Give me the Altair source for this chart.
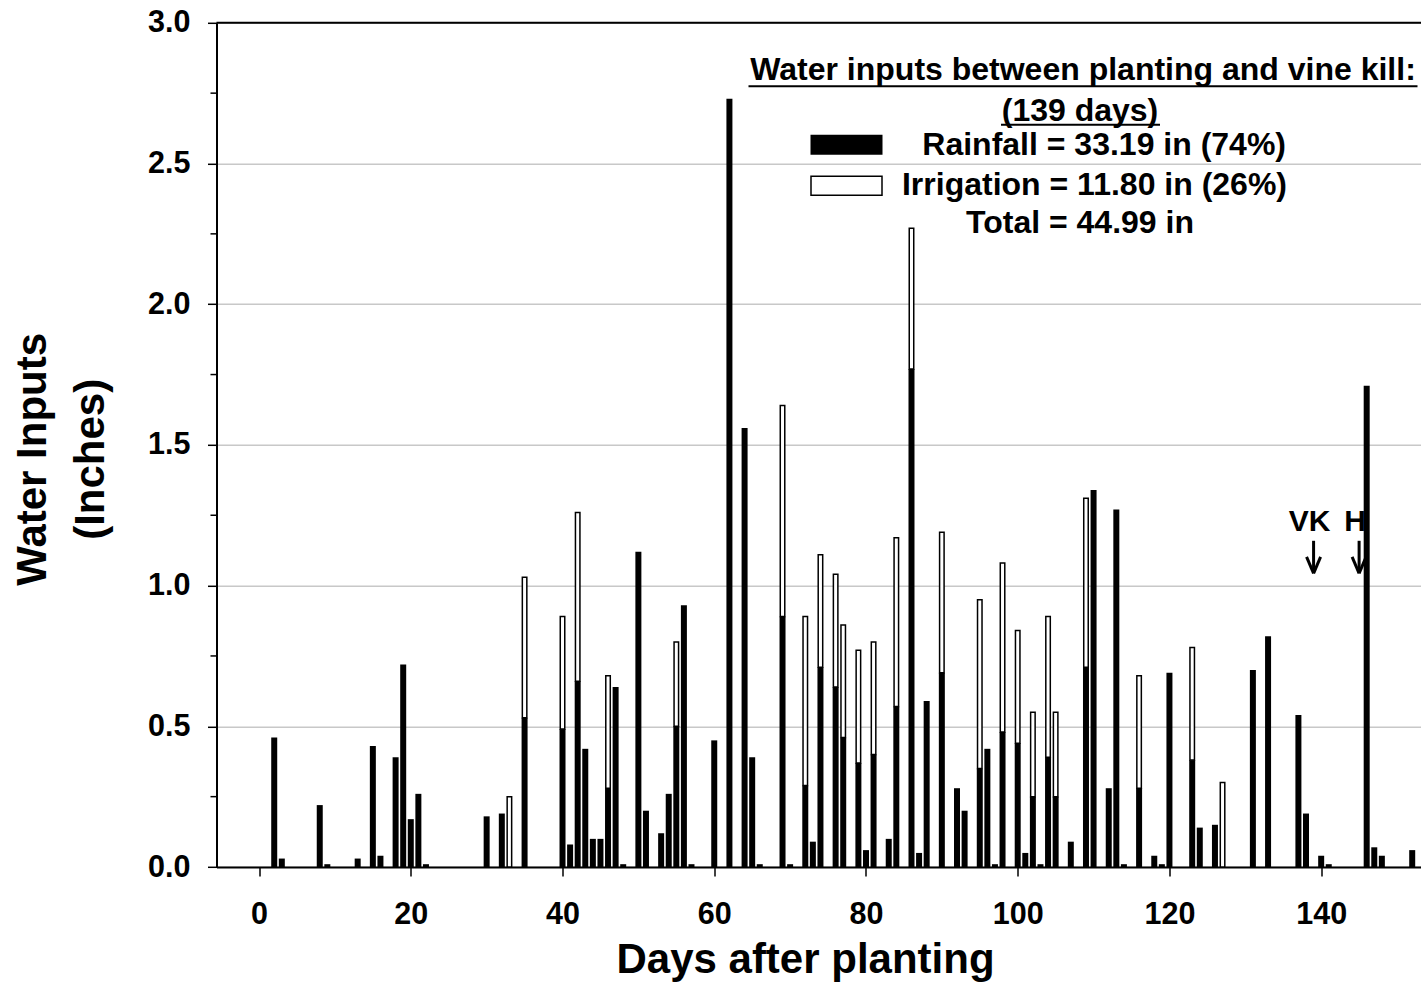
import altair as alt
import pandas as pd

# ---- data ----
days = [2, 3, 8, 9, 13, 15, 16, 18, 19, 20, 21, 22, 30, 32, 33, 35, 40, 41, 42, 43,
        44, 45, 46, 47, 48, 50, 51, 53, 54, 55, 56, 57, 60, 62, 64, 65, 66, 69, 70, 72,
        73, 74, 76, 77, 79, 80, 81, 83, 84, 86, 87, 88, 90, 92, 93, 95, 96, 97, 98, 100,
        101, 102, 103, 104, 105, 107, 109, 110, 112, 113, 114, 116, 118, 119, 120, 123, 124, 126, 127, 131,
        133, 137, 138, 140, 141, 146, 147, 148, 152]
rainfall = [0.46, 0.03, 0.22, 0.01, 0.03, 0.43, 0.04, 0.39, 0.72, 0.17, 0.26, 0.01, 0.18, 0.19, 0.00, 0.53, 0.49, 0.08, 0.66, 0.42,
            0.10, 0.10, 0.28, 0.64, 0.01, 1.12, 0.20, 0.12, 0.26, 0.50, 0.93, 0.01, 0.45, 2.73, 1.56, 0.39, 0.01, 0.89, 0.01, 0.29,
            0.09, 0.71, 0.64, 0.46, 0.37, 0.06, 0.40, 0.10, 0.57, 1.77, 0.05, 0.59, 0.69, 0.28, 0.20, 0.35, 0.42, 0.01, 0.48, 0.44,
            0.05, 0.25, 0.01, 0.39, 0.25, 0.09, 0.71, 1.34, 0.28, 1.27, 0.01, 0.28, 0.04, 0.01, 0.69, 0.38, 0.14, 0.15, 0.00, 0.70,
            0.82, 0.54, 0.19, 0.04, 0.01, 1.71, 0.07, 0.04, 0.06]
irrigation = [0, 0, 0, 0, 0, 0, 0, 0, 0, 0, 0, 0, 0, 0, 0.25, 0.50, 0.40, 0, 0.60, 0,
              0, 0, 0.40, 0, 0, 0, 0, 0, 0, 0.30, 0, 0, 0, 0, 0, 0, 0, 0.75, 0, 0.60,
              0, 0.40, 0.40, 0.40, 0.40, 0, 0.40, 0, 0.60, 0.50, 0, 0, 0.50, 0, 0, 0.60, 0, 0, 0.60, 0.40,
              0, 0.30, 0, 0.50, 0.30, 0, 0.60, 0, 0, 0, 0, 0.40, 0, 0, 0, 0.40, 0, 0, 0.30, 0,
              0, 0, 0, 0, 0, 0, 0, 0, 0]

x_ticks = [0, 20, 40, 60, 80, 100, 120, 140]
y_ticks = [0.0, 0.5, 1.0, 1.5, 2.0, 2.5, 3.0]
y_minor = [0.25, 0.75, 1.25, 1.75, 2.25, 2.75]

legend_title = "Water inputs between planting and vine kill:"
legend_days = "(139 days)"
legend_rain = "Rainfall = 33.19 in (74%)"
legend_irr = "Irrigation = 11.80 in (26%)"
legend_total = "Total = 44.99 in"

event_labels = ["VK", "H"]
event_days = [139, 145]

x_title = "Days after planting"
y_title = ["Water Inputs", "(Inches)"]

# ---- layout ----
W = 1204.5
H = 844.2
FONT = "Liberation Sans"

df = pd.DataFrame({"day": days, "rain": rainfall, "irr": irrigation})
df["base"] = 0.0
df["total"] = df["rain"] + df["irr"]
rain_df = df[df["rain"] > 0]
irr_df = df[df["irr"] > 0]

xs = alt.Scale(domain=[-4.95, 152.5], nice=False, zero=False)
ys = alt.Scale(domain=[0, 3], nice=False)

x_axis = alt.Axis(
    values=x_ticks, title=x_title, grid=False,
    labelFont=FONT, labelFontSize=30.5, labelFontWeight="bold", labelColor="black",
    labelPadding=23, tickSize=9, tickWidth=1.5, tickColor="black",
    domainColor="black", domainWidth=2,
    titleFont=FONT, titleFontSize=42, titleFontWeight="bold", titleColor="black",
    titleX=588.5, titleY=105, titleAlign="center", titleBaseline="alphabetic",
)
y_axis = alt.Axis(
    values=y_ticks, format=".1f", title=y_title,
    grid=True, gridColor="#c8c8c8", gridWidth=1.5,
    labelFont=FONT, labelFontSize=30.5, labelFontWeight="bold", labelColor="black",
    labelPadding=17.5, tickSize=9, tickWidth=1.5, tickColor="black",
    domainColor="black", domainWidth=2,
    titleFont=FONT, titleFontSize=42, titleFontWeight="bold", titleColor="black",
    titleLineHeight=58, titleX=-184, titleY=436, titleAngle=-90,
    titleAlign="center", titleBaseline="middle",
)

rain_bars = alt.Chart(rain_df).mark_bar(size=6, color="black").encode(
    x=alt.X("day:Q", scale=xs, axis=x_axis),
    y=alt.Y("rain:Q", scale=ys, axis=y_axis),
    y2="base:Q",
)

irr_bars = alt.Chart(irr_df).mark_bar(size=4.5, fill="white", stroke="black", strokeWidth=1.5).encode(
    x=alt.X("day:Q", scale=xs),
    y=alt.Y("total:Q", scale=ys),
    y2="rain:Q",
)

minor = alt.Chart(pd.DataFrame({"v": y_minor})).mark_rule(color="black", strokeWidth=1.5).encode(
    y=alt.Y("v:Q", scale=ys), x=alt.value(-6), x2=alt.value(0)
)

top_line = alt.Chart(pd.DataFrame({"v": [y_ticks[-1]]})).mark_rule(color="black", strokeWidth=2).encode(
    y=alt.Y("v:Q", scale=ys), x=alt.value(0), x2=alt.value(W)
)

one = alt.Data(values=[{}])


def txt(s, x, y, align="center", size=32):
    return alt.Chart(one).mark_text(
        font=FONT, fontSize=size, fontWeight="bold", color="black",
        align=align, baseline="alphabetic",
    ).encode(text=alt.value(s), x=alt.value(x), y=alt.value(y))


def hline(x1, x2, y, w=2):
    return alt.Chart(one).mark_rule(color="black", strokeWidth=w).encode(
        x=alt.value(x1), x2=alt.value(x2), y=alt.value(y)
    )


legend = [
    txt(legend_title, 866.5, 57.2),
    hline(532, 1201, 63.5),
    txt(legend_days, 863.5, 98),
    hline(784.5, 943.5, 102),
    txt(legend_rain, 1069.5, 132, align="right"),
    txt(legend_irr, 1070.5, 172, align="right"),
    txt(legend_total, 863.5, 210.5),
    alt.Chart(one).mark_rect(color="black").encode(
        x=alt.value(594), x2=alt.value(666), y=alt.value(112), y2=alt.value(132)),
    alt.Chart(one).mark_rect(fill="white", stroke="black", strokeWidth=1.5).encode(
        x=alt.value(594.5), x2=alt.value(665.5), y=alt.value(153.5), y2=alt.value(172.5)),
]

ev = pd.DataFrame({"lab": event_labels, "day": event_days})
ev_text = alt.Chart(ev).mark_text(
    font=FONT, fontSize=30, fontWeight="bold", color="black", baseline="alphabetic", dx=-4
).encode(x=alt.X("day:Q", scale=xs), y=alt.value(508), text="lab:N")
ev_shaft = alt.Chart(ev).mark_rule(color="black", strokeWidth=3).encode(
    x=alt.X("day:Q", scale=xs), y=alt.value(518), y2=alt.value(550)
)
ev_head_l = alt.Chart(ev).mark_rule(color="black", strokeWidth=3, xOffset=-7, x2Offset=0).encode(
    x=alt.X("day:Q", scale=xs), x2="day:Q", y=alt.value(534), y2=alt.value(550.5)
)
ev_head_r = alt.Chart(ev).mark_rule(color="black", strokeWidth=3, xOffset=7, x2Offset=0).encode(
    x=alt.X("day:Q", scale=xs), x2="day:Q", y=alt.value(534), y2=alt.value(550.5)
)

chart = alt.layer(
    rain_bars, irr_bars, minor, top_line, *legend, ev_text, ev_shaft, ev_head_l, ev_head_r
).properties(
    width=W, height=H,
    autosize=alt.AutoSizeParams(type="none"),
    padding={"left": 216.5, "top": 22.8, "right": 0, "bottom": 127},
    background="white",
).configure_view(stroke=None)

chart.save("out.html", embed_options={"renderer": "svg", "actions": False})
